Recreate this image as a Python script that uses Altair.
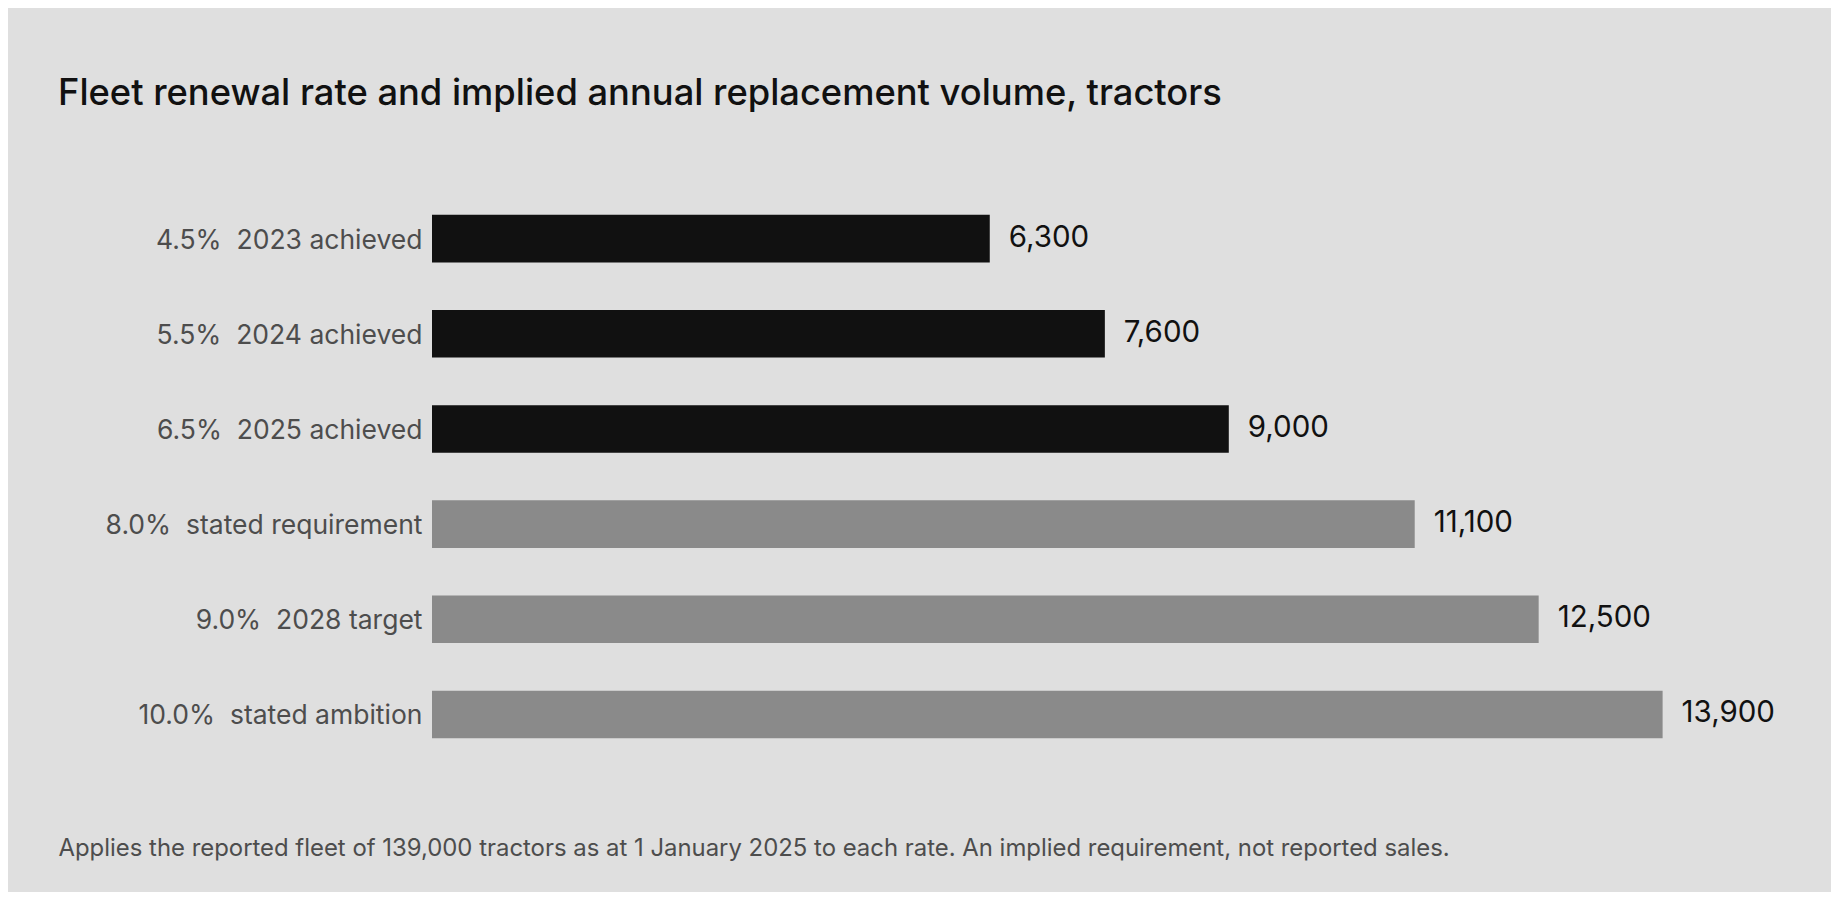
import altair as alt
import pandas as pd

rates = ["4.5%", "5.5%", "6.5%", "8.0%", "9.0%", "10.0%"]
names = ["2023 achieved", "2024 achieved", "2025 achieved",
         "stated requirement", "2028 target", "stated ambition"]
volumes = [6300, 7600, 9000, 11100, 12500, 13900]
status = ["achieved", "achieved", "achieved", "scenario", "scenario", "scenario"]

title_text = "Fleet renewal rate and implied annual replacement volume, tractors"
footnote = ("Applies the reported fleet of 139,000 tractors as at 1 January 2025 "
            "to each rate. An implied requirement, not reported sales.")

df = pd.DataFrame({"rate": rates, "name": names, "volume": volumes, "status": status})
df["label"] = [f"{r}\u00a0\u00a0{n}" for r, n in zip(rates, names)]
df["text"] = [f"{v:,}" for v in volumes]
order = list(df["label"])

FONT = "Inter"

y = alt.Y(
    "label:N", sort=order,
    scale=alt.Scale(paddingInner=0.5, paddingOuter=0.25),
    axis=alt.Axis(title=None, ticks=False, domain=False, grid=False,
                  labelFont=FONT, labelFontSize=26.5, labelColor="#4d4d4d",
                  labelPadding=10, labelLimit=1000, labelOffset=2),
)
x = alt.X(
    "volume:Q",
    scale=alt.Scale(domain=[0, 15000], nice=False),
    axis=alt.Axis(labels=False, ticks=False, domain=False, grid=False,
                  title=footnote, titleFont=FONT, titleFontSize=23.9,
                  titleFontWeight="normal", titleColor="#4d4d4d",
                  titleX=-374, titleY=93, titleAlign="left",
                  titleAnchor="start", titleBaseline="alphabetic",
                  titleLimit=3000),
)

bars = alt.Chart(df).mark_bar().encode(
    x=x, y=y,
    color=alt.Color("status:N",
                    scale=alt.Scale(domain=["achieved", "scenario"],
                                    range=["#111111", "#8a8a8a"]),
                    legend=None),
)
labels = alt.Chart(df).mark_text(
    align="left", baseline="middle", dx=19, dy=-1, font=FONT, fontSize=29.5,
    color="#111111",
).encode(x=x, y=y, text="text:N")

chart = (bars + labels).properties(
    width=1328, height=571,
    title=alt.Title(title_text, anchor="start", frame="group", dx=-374, offset=50,
                    baseline="alphabetic", font=FONT, fontSize=36.3,
                    fontWeight=500, color="#111111", limit=3000),
    padding={"left": 424, "top": 183, "right": 71, "bottom": 130},
    autosize="none",
    background="#dfdfdf",
).configure_view(stroke=None)

chart.save("out.html", embed_options={"renderer": "svg", "actions": False})
